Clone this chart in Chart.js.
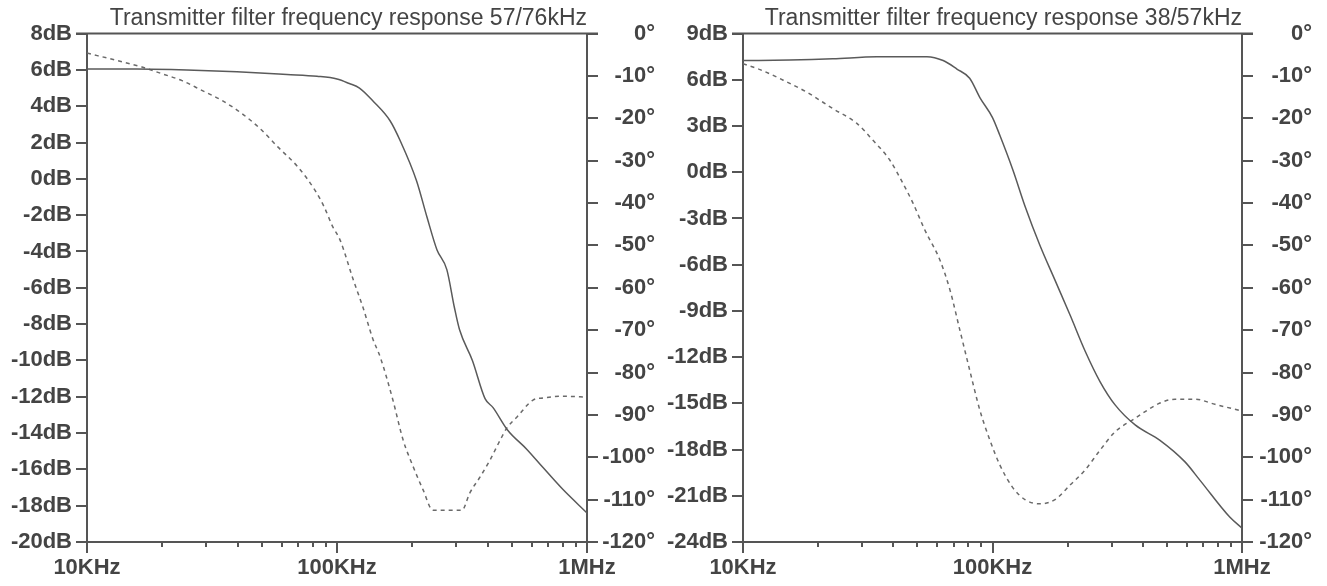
<!DOCTYPE html>
<html>
<head>
<meta charset="utf-8">
<script src="https://cdn.jsdelivr.net/npm/chart.js@4.4.0/dist/chart.umd.min.js"></script>
<style>
  html, body { margin: 0; padding: 0; background: #fff; }
  .box { position: absolute; top: 0; height: 586px; }
  #leftBox { left: 0; width: 663px; }
  #rightBox { left: 663px; width: 664px; }
</style>
</head>
<body>
<div class="box" id="leftBox"><canvas id="leftChart"></canvas></div>
<div class="box" id="rightBox"><canvas id="rightChart"></canvas></div>
<script>
// -------------------- DATA --------------------
// ticks of the frequency axis
const decadeTicks = [1e4, 1e5, 1e6];
const decadeLabels = ["10KHz", "100KHz", "1MHz"];
const minorSteps = [2, 3, 4, 5, 6, 7, 8, 9];

// 57/76kHz filter : gain (solid, dB)
const leftGainFreq = [10000, 15800, 25100, 39800, 63100, 83200, 100000, 112000, 123000, 139000, 163000, 179000, 208000, 229000, 251000, 275000, 295000, 309000, 348000, 391000, 421000, 479000, 575000, 667000, 800000, 1000000];
const leftGain = [6.05, 6.05, 6.0, 5.9, 5.75, 5.65, 5.5, 5.25, 5.0, 4.3, 3.2, 2.1, -0.1, -2.1, -3.9, -5.0, -7.1, -8.3, -10.0, -12.1, -12.6, -13.8, -14.9, -15.9, -17.1, -18.4];
// 57/76kHz filter : phase (dashed, degrees)
const leftPhaseFreq = [10000, 13300, 16600, 20000, 24000, 28800, 34700, 41700, 49200, 58100, 69800, 81700, 89000, 96000, 103000, 116000, 127000, 139000, 149000, 167000, 184000, 201000, 221000, 242000, 316000, 340000, 373000, 409000, 449000, 479000, 525000, 608000, 667000, 802000, 1000000];
const leftPhase = [-4.6, -6.4, -7.9, -9.5, -11.1, -13.4, -15.8, -18.9, -22.4, -26.8, -31.5, -37.0, -41.0, -45.5, -48.8, -58, -64.6, -72, -76.4, -86.3, -96, -102, -107.7, -112.5, -112.5, -108.4, -104.7, -100.7, -96, -93, -90.5, -86.5, -86, -85.6, -85.8];

// 38/57kHz filter : gain (solid, dB)
const rightGainFreq = [10000, 15400, 22900, 34400, 54600, 63400, 72000, 81000, 89000, 100000, 107000, 121000, 135000, 155000, 178000, 205000, 235000, 270000, 310000, 373000, 469000, 591000, 679000, 895000, 1000000];
const rightGain = [7.25, 7.28, 7.36, 7.5, 7.5, 7.25, 6.7, 6.1, 4.85, 3.55, 2.4, 0.1, -2.2, -4.75, -7.0, -9.3, -11.6, -13.6, -15.1, -16.4, -17.4, -18.8, -20.0, -22.4, -23.1];
// 38/57kHz filter : phase (dashed, degrees)
const rightPhaseFreq = [10000, 11700, 14500, 18100, 22900, 28600, 33200, 38800, 43800, 48000, 53600, 61600, 67600, 74000, 81000, 89000, 97700, 107000, 120000, 135000, 155000, 178000, 205000, 235000, 270000, 310000, 373000, 469000, 539000, 648000, 779000, 1000000];
const rightPhase = [-7.1, -8.5, -11, -13.9, -17.7, -21.2, -25.2, -29.9, -35.4, -40, -46.4, -53.5, -60.6, -70, -79.4, -88.9, -96, -101.8, -107, -110, -111, -110, -106.5, -103, -98.3, -94, -90.8, -87.2, -86.3, -86.3, -87.5, -89.1];

// -------------------- STYLE --------------------
const AXIS_COLOR = "#555";
const TEXT_COLOR = "#444";
Chart.defaults.font.family = "'Liberation Sans', Arial, sans-serif";

const minorTicks = [];
decadeTicks.slice(0, -1).forEach(d => minorSteps.forEach(s => minorTicks.push(d * s)));

// top frame line + short minor ticks on the frequency axis
const frameLines = {
  id: "frameLines",
  afterDraw(chart) {
    const { ctx, chartArea: a, scales } = chart;
    ctx.save();
    ctx.strokeStyle = AXIS_COLOR;
    ctx.lineWidth = 2;
    ctx.beginPath();
    ctx.moveTo(a.left - 11, a.top);
    ctx.lineTo(a.right + 11, a.top);
    minorTicks.forEach(v => {
      const px = Math.round(scales.x.getPixelForValue(v));
      ctx.moveTo(px, a.bottom);
      ctx.lineTo(px, a.bottom + 5);
    });
    ctx.stroke();
    ctx.restore();
  }
};

const toPoints = (xs, ys) => xs.map((f, i) => ({ x: f, y: ys[i] }));

function makeChart(canvasId, cfg) {
  const tickFont = { size: 22, weight: "bold" };
  const axisGrid = { drawOnChartArea: false, drawTicks: true, tickLength: 11, tickColor: AXIS_COLOR, lineWidth: 2 };
  const axisBorder = { display: true, color: AXIS_COLOR, width: 2 };

  return new Chart(document.getElementById(canvasId), {
    type: "line",
    data: {
      datasets: [
        {
          data: toPoints(cfg.gainFreq, cfg.gain),
          yAxisID: "y",
          borderColor: "#5a5a5a",
          borderWidth: 1.5,
          pointRadius: 0,
          cubicInterpolationMode: "monotone",
        },
        {
          data: toPoints(cfg.phaseFreq, cfg.phase),
          yAxisID: "y1",
          borderColor: "#6a6a6a",
          borderWidth: 1.5,
          borderDash: [4, 4],
          pointRadius: 0,
          cubicInterpolationMode: "monotone",
        },
      ],
    },
    options: {
      responsive: true,
      maintainAspectRatio: false,
      animation: false,
      layout: { padding: { left: 0, right: cfg.padRight, top: 0, bottom: 0 } },
      plugins: {
        legend: { display: false },
        tooltip: { enabled: false },
        title: {
          display: true,
          text: cfg.title,
          fullSize: false,
          align: "end",
          color: TEXT_COLOR,
          font: { size: 23, weight: "normal" },
          padding: { top: 5, bottom: 1 },
        },
      },
      scales: {
        x: {
          type: "logarithmic",
          min: 1e4,
          max: 1e6,
          grid: axisGrid,
          border: axisBorder,
          afterBuildTicks: s => { s.ticks = decadeTicks.map(v => ({ value: v })); },
          afterFit: s => { s.height = 44; },
          ticks: {
            autoSkip: false,
            maxRotation: 0,
            padding: 2,
            color: TEXT_COLOR,
            font: tickFont,
            callback: v => decadeLabels[decadeTicks.indexOf(v)] ?? "",
          },
        },
        y: {
          position: "left",
          min: cfg.gainMin,
          max: cfg.gainMax,
          grid: axisGrid,
          border: axisBorder,
          afterFit: s => { s.width = cfg.leftWidth; },
          ticks: { stepSize: cfg.gainStep, padding: 4, color: TEXT_COLOR, font: tickFont, callback: v => v + "dB" },
        },
        y1: {
          position: "right",
          min: -120,
          max: 0,
          grid: axisGrid,
          border: axisBorder,
          afterFit: s => { s.width = cfg.rightWidth; },
          ticks: { stepSize: 10, padding: 4, crossAlign: "far", color: TEXT_COLOR, font: tickFont, callback: v => v + "°" },
        },
      },
    },
    plugins: [frameLines],
  });
}

makeChart("leftChart", {
  title: "Transmitter filter frequency response 57/76kHz",
  gainFreq: leftGainFreq, gain: leftGain,
  phaseFreq: leftPhaseFreq, phase: leftPhase,
  gainMin: -20, gainMax: 8, gainStep: 2,
  leftWidth: 87, rightWidth: 68, padRight: 8,
});

makeChart("rightChart", {
  title: "Transmitter filter frequency response 38/57kHz",
  gainFreq: rightGainFreq, gain: rightGain,
  phaseFreq: rightPhaseFreq, phase: rightPhase,
  gainMin: -24, gainMax: 9, gainStep: 3,
  leftWidth: 80, rightWidth: 70, padRight: 15,
});
</script>
</body>
</html>
